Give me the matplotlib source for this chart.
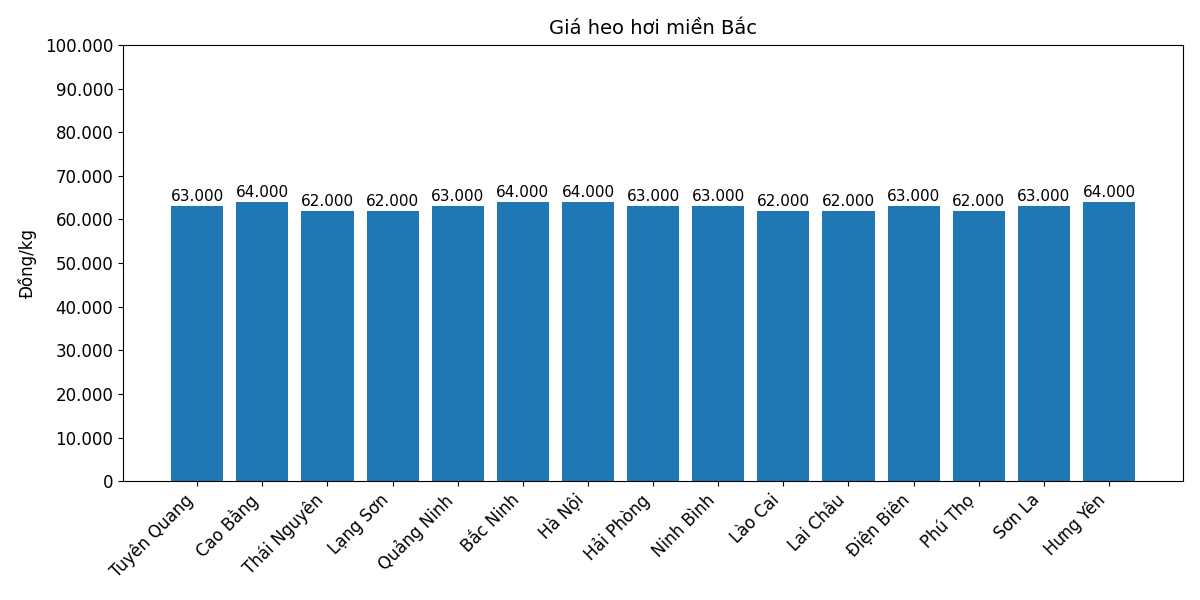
import matplotlib
matplotlib.use("Agg")
import matplotlib.pyplot as plt
from matplotlib.ticker import FuncFormatter

provinces = ["Tuyên Quang", "Cao Bằng", "Thái Nguyên", "Lạng Sơn", "Quảng Ninh",
             "Bắc Ninh", "Hà Nội", "Hải Phòng", "Ninh Bình", "Lào Cai",
             "Lai Châu", "Điện Biên", "Phú Thọ", "Sơn La", "Hưng Yên"]
prices = [63000, 64000, 62000, 62000, 63000, 64000, 64000, 63000, 63000, 62000,
          62000, 63000, 62000, 63000, 64000]


def vn(x):
    return f"{int(x):,}".replace(",", ".")


fig, ax = plt.subplots(figsize=(12, 6), dpi=100)
bars = ax.bar(provinces, prices, color="#1f77b4")
for b, v in zip(bars, prices):
    ax.text(b.get_x() + b.get_width() / 2, v + 500, vn(v), ha="center", va="bottom", fontsize=11)

ax.set_ylim(0, 100000)
ax.set_yticks(range(0, 100001, 10000))
ax.yaxis.set_major_formatter(FuncFormatter(lambda x, p: vn(x)))
ax.tick_params(labelsize=12)
ax.set_ylabel("Đồng/kg", fontsize=12, labelpad=6)
ax.set_title("Giá heo hơi miền Bắc", fontsize=14, pad=8)
plt.xticks(rotation=45, ha="right")
fig.subplots_adjust(left=0.1025, right=0.986, top=0.925, bottom=0.198)
fig.savefig("out.png")
